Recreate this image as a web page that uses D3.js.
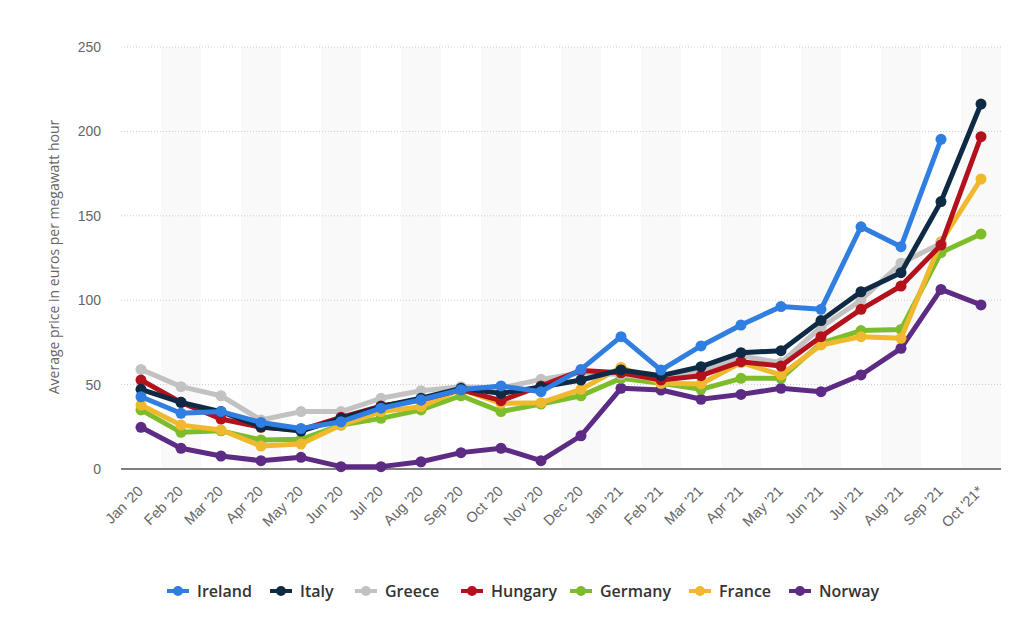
<!DOCTYPE html>
<html>
<head>
<meta charset="utf-8">
<script src="https://cdn.jsdelivr.net/npm/d3@7"></script>
<style>
  body { margin: 0; background: #fff; }
  svg { display: block; font-family: "Open Sans", "DejaVu Sans", sans-serif; }
</style>
</head>
<body>
<div id="chart"></div>
<script>
// Monthly electricity prices (EUR/MWh) by country, Jan 2020 - Oct 2021
const months = ["Jan '20", "Feb '20", "Mar '20", "Apr '20", "May '20", "Jun '20", "Jul '20", "Aug '20",
  "Sep '20", "Oct '20", "Nov '20", "Dec '20", "Jan '21", "Feb '21", "Mar '21", "Apr '21",
  "May '21", "Jun '21", "Jul '21", "Aug '21", "Sep '21", "Oct '21*"];

const countries = ["Ireland", "Italy", "Greece", "Hungary", "Germany", "France", "Norway"];
const colors = ["#2f7ee0", "#0f2a44", "#c2c2c2", "#b3121c", "#7dbd2c", "#f0b82d", "#5d2a84"];

const ireland = [42.8, 33, 34, 27.6, 24, 28, 36, 41, 47, 49.2, 45.8, 59, 78.4, 58.6, 72.9, 85.3, 96.2, 94.6, 143.5, 131.7, 195.3, null];
const italy   = [47.2, 39.5, 34, 25, 22.5, 30, 37, 41.9, 47.8, 44.8, 48.6, 52.7, 58.7, 55.3, 60.6, 68.9, 70.1, 87.9, 105, 116.3, 158.4, 216.2];
const greece  = [59, 48.8, 43.4, 29, 34, 34, 41.9, 46.4, 48.8, 48, 53.1, 57, 56, 53, 57.7, 67, 63, 84, 100, 121.9, 133.7, null];
const hungary = [52.7, 39.5, 29.6, 24.7, 23.1, 30.6, 37.3, 40.9, 47, 40.5, 49.2, 58.3, 57, 52.7, 55.3, 63.6, 61, 78.4, 94.6, 108.4, 132.7, 196.9];
const germany = [35, 21.7, 22.6, 17.2, 17.6, 26, 30, 35, 43.4, 34, 38.5, 43.4, 53.7, 50.8, 47.2, 53.7, 53.7, 74.5, 82, 82.7, 128.2, 139.2];
const france  = [37.9, 26, 23.1, 13.6, 14.8, 26, 34, 36.9, 47.2, 38.9, 39.3, 47.2, 60.2, 50.8, 50.4, 63, 55.7, 73.5, 78.4, 77.4, 134.7, 171.8];
const norway  = [24.7, 12.3, 7.7, 4.9, 6.9, 1.4, 1.4, 4.3, 9.7, 12.3, 4.9, 19.7, 47.8, 46.8, 41.3, 44.2, 47.8, 45.8, 55.7, 71.5, 106.4, 97.2];

const seriesValues = [ireland, italy, greece, hungary, germany, france, norway];
const yTicks = [0, 50, 100, 150, 200, 250];

const W = 1024, H = 633;
const margin = { top: 47, right: 23, bottom: 164, left: 121 };
const width = W - margin.left - margin.right;
const height = H - margin.top - margin.bottom;

const svg = d3.select('#chart').append('svg')
  .attr('width', W)
  .attr('height', H);

const g = svg.append('g')
  .attr('transform', `translate(${margin.left},${margin.top})`);

const xBand = d3.scaleBand().domain(months).range([0, width]).padding(0);
const xScale = d => xBand(d) + xBand.bandwidth() / 2;
const yScale = d3.scaleLinear().domain([0, 250]).range([height, 0]);

// alternating column shading
g.selectAll('.stripe')
  .data(months.filter((m, i) => i % 2 === 1))
  .enter()
  .append('rect')
  .attr('x', d => xBand(d))
  .attr('y', 0)
  .attr('width', xBand.bandwidth())
  .attr('height', height)
  .attr('fill', '#f9f9f9');

// grid lines
g.append('g')
  .selectAll('line')
  .data(yTicks.filter(t => t > 0))
  .enter()
  .append('line')
  .attr('x1', 0)
  .attr('x2', width)
  .attr('y1', d => yScale(d))
  .attr('y2', d => yScale(d))
  .attr('stroke', '#cccccc')
  .attr('stroke-width', 1)
  .attr('stroke-dasharray', '1,2');

// y axis
const yAxis = g.append('g')
  .call(d3.axisLeft(yScale).tickValues(yTicks).tickSize(0).tickPadding(20));
yAxis.select('.domain').remove();
yAxis.selectAll('text')
  .style('font-size', '14px')
  .style('fill', '#666');

// baseline
g.append('line')
  .attr('x1', 0)
  .attr('x2', width)
  .attr('y1', yScale(0))
  .attr('y2', yScale(0))
  .attr('stroke', '#555')
  .attr('stroke-width', 1.5);

// x axis labels
const xAxis = g.append('g')
  .attr('transform', `translate(0,${height})`)
  .call(d3.axisBottom(xBand).tickSize(0).tickPadding(0));
xAxis.select('.domain').remove();
xAxis.selectAll('text')
  .attr('text-anchor', 'end')
  .attr('dy', '0')
  .attr('transform', 'translate(3,23) rotate(-45)')
  .style('font-size', '14.5px')
  .style('fill', '#666');

// y axis title
svg.append('text')
  .attr('transform', 'rotate(-90)')
  .attr('x', -(margin.top + height / 2) + 1)
  .attr('y', 59)
  .attr('text-anchor', 'middle')
  .style('font-size', '14px')
  .style('fill', '#666')
  .text('Average price in euros per megawatt hour');

// lines and markers
const line = d3.line()
  .defined(d => d.v !== null)
  .x(d => xScale(d.m))
  .y(d => yScale(d.v));

const series = countries.map((c, i) => ({
  name: c,
  color: colors[i],
  points: months.map((m, j) => ({ m: m, v: seriesValues[i][j] }))
}));

const drawOrder = [6, 4, 5, 2, 3, 1, 0];
drawOrder.forEach(i => {
  const s = series[i];
  const sg = g.append('g');
  sg.append('path')
    .datum(s.points)
    .attr('fill', 'none')
    .attr('stroke', s.color)
    .attr('stroke-width', 5)
    .attr('stroke-linejoin', 'round')
    .attr('d', line);
  sg.selectAll('circle')
    .data(s.points.filter(p => p.v !== null))
    .enter()
    .append('circle')
    .attr('cx', p => xScale(p.m))
    .attr('cy', p => yScale(p.v))
    .attr('r', 5.5)
    .attr('fill', s.color);
});

// legend
const legendX = [167, 270, 355, 461, 570, 689, 789];
const legend = svg.append('g').attr('transform', 'translate(0,591)');
series.forEach((s, i) => {
  const lg = legend.append('g').attr('transform', `translate(${legendX[i]},0)`);
  lg.append('line')
    .attr('x1', 0).attr('x2', 22)
    .attr('y1', 0).attr('y2', 0)
    .attr('stroke', s.color)
    .attr('stroke-width', 4);
  lg.append('circle')
    .attr('cx', 11).attr('cy', 0).attr('r', 5)
    .attr('fill', s.color);
  lg.append('text')
    .attr('x', 30)
    .attr('y', 0)
    .attr('dy', '0.35em')
    .style('font-size', '16px')
    .style('font-weight', '600')
    .style('fill', '#333')
    .text(s.name);
});
</script>
</body>
</html>
